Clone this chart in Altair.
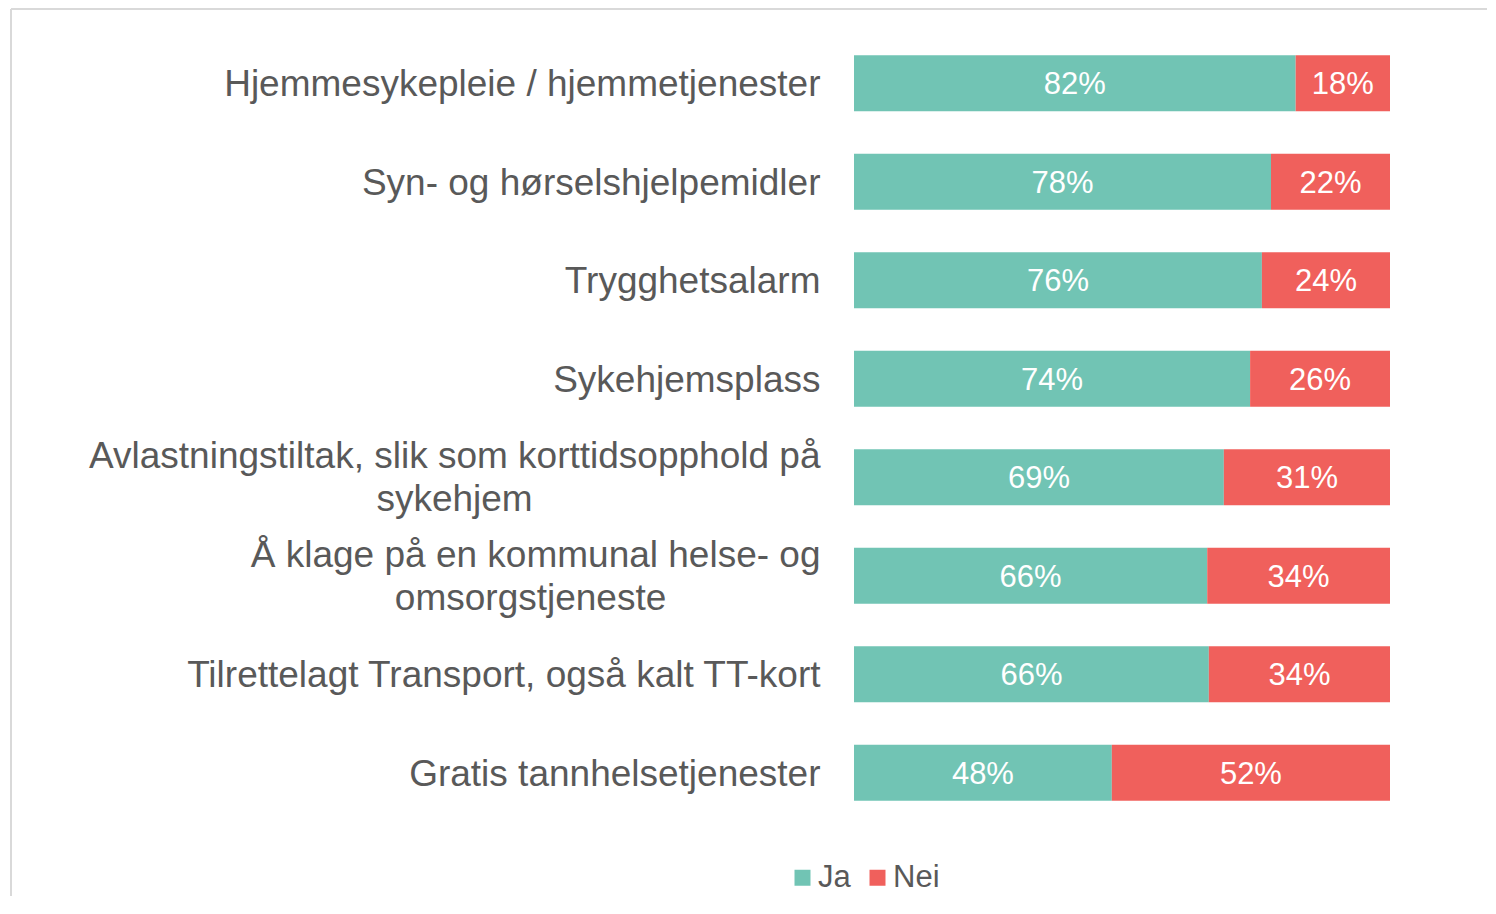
import altair as alt
import pandas as pd

NBSP = "\u00a0"
ZW = "\u200b"

categories = [
    "Hjemmesykepleie / hjemmetjenester",
    "Syn- og hørselshjelpemidler",
    "Trygghetsalarm",
    "Sykehjemsplass",
    "Avlastningstiltak, slik som korttidsopphold på\nsykehjem" + NBSP * 28 + ZW,
    "Å klage på en kommunal helse- og\nomsorgstjeneste" + NBSP * 15 + ZW,
    "Tilrettelagt Transport, også kalt TT-kort",
    "Gratis tannhelsetjenester",
]
ja = [82.4, 77.8, 76.1, 73.9, 69.0, 65.9, 66.2, 48.1]
nei = [17.6, 22.2, 23.9, 26.1, 31.0, 34.1, 33.8, 51.9]
series = ["Ja", "Nei"]
colors = ["#71C4B4", "#F0605C"]

rows = []
for i, c in enumerate(categories):
    rows.append(dict(cat=c, resp="Ja", start=0.0, end=ja[i], mid=ja[i] / 2,
                     label=f"{ja[i]:.0f}%"))
    rows.append(dict(cat=c, resp="Nei", start=ja[i], end=ja[i] + nei[i],
                     mid=ja[i] + nei[i] / 2, label=f"{nei[i]:.0f}%"))
df = pd.DataFrame(rows)

y = alt.Y(
    "cat:N", sort=categories, title=None,
    scale=alt.Scale(paddingInner=0.43, paddingOuter=0.215),
    axis=alt.Axis(domain=False, ticks=False, grid=False, labelPadding=34,
                  labelFontSize=37, labelColor="#595959", labelLimit=0,
                  labelLineHeight=43, labelAlign="right", labelBaseline="middle",
                  labelOffset={"condition": {"test": "indexof(datum.value, '\\n') >= 0",
                                             "value": -20},
                               "value": 2},
                  labelExpr="split(datum.label, '\\n')"),
)
xs = alt.Scale(domain=[0, 100], nice=False)

bars = alt.Chart(df).mark_bar().encode(
    y=y,
    x=alt.X("start:Q", scale=xs, axis=None),
    x2="end:Q",
    color=alt.Color(
        "resp:N", title=None,
        scale=alt.Scale(domain=series, range=colors),
        legend=alt.Legend(orient="none", legendX=-67, legendY=828,
                          direction="horizontal", symbolType="square",
                          symbolSize=256, symbolStrokeWidth=0, labelFontSize=31,
                          labelColor="#595959", labelOffset=0, columnPadding=11,
                          padding=0),
    ),
)

texts = alt.Chart(df).mark_text(color="white", fontSize=31, baseline="middle",
                                align="center", dy=2).encode(
    y=y,
    x=alt.X("mid:Q", scale=xs, axis=None),
    text="label:N",
)

frame_df = pd.DataFrame({"f": [0]})
frame_top = alt.Chart(frame_df).mark_rule(color="#D9D9D9", strokeWidth=2).encode(
    x=alt.value(-843), x2=alt.value(633), y=alt.value(-25))
frame_left = alt.Chart(frame_df).mark_rule(color="#D9D9D9", strokeWidth=2).encode(
    x=alt.value(-843), y=alt.value(-25), y2=alt.value(862))

chart = (
    alt.layer(frame_top, frame_left, bars, texts)
    .properties(width=536, height=788,
                padding={"left": 2, "top": 0, "right": 0, "bottom": 0})
    .configure(font="Liberation Sans")
    .configure_view(strokeWidth=0)
)

chart.save("out.html", embed_options={"renderer": "svg", "actions": False})
